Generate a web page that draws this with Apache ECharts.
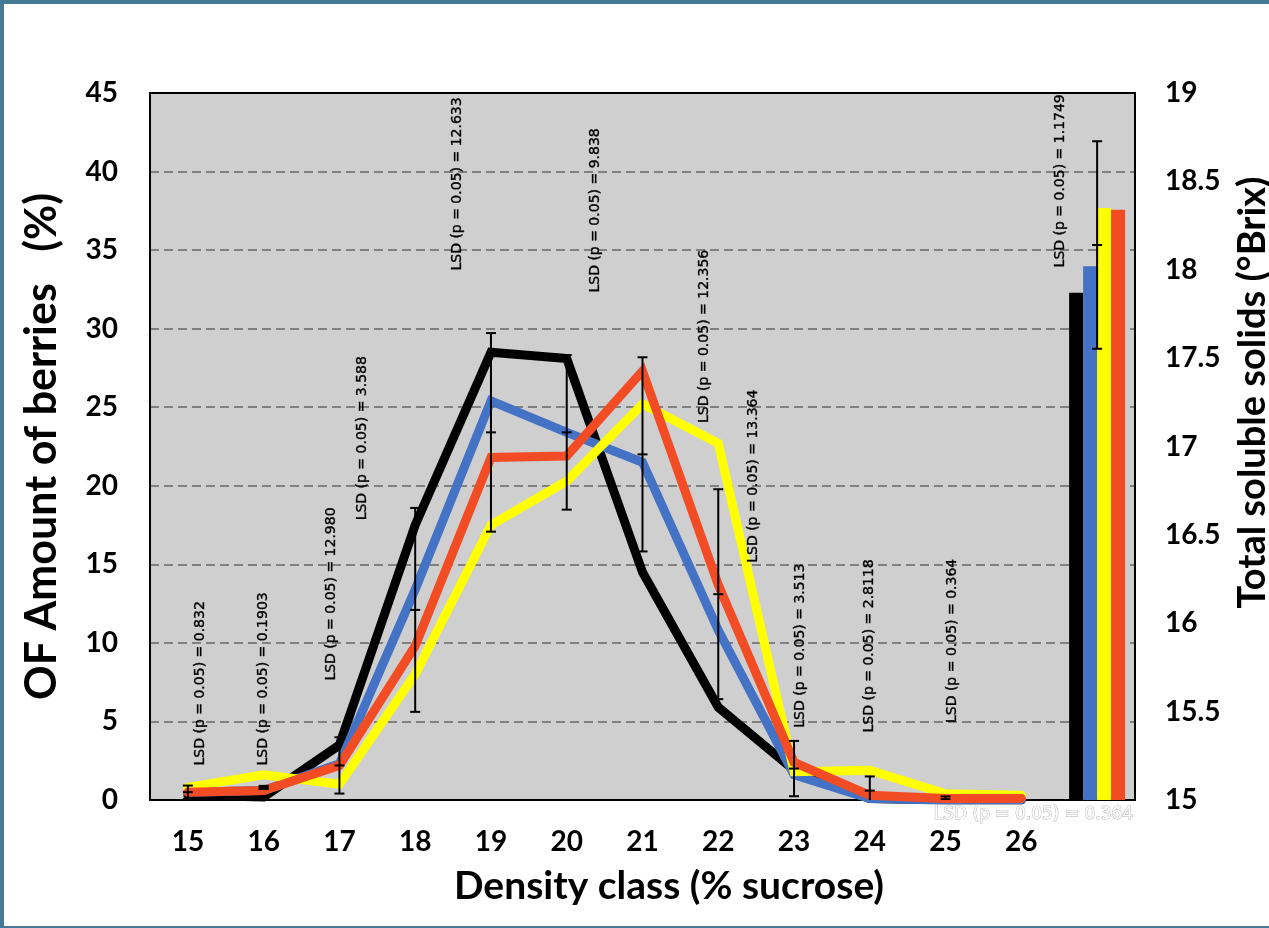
<!DOCTYPE html>
<html><head><meta charset="utf-8">
<script src="https://cdn.jsdelivr.net/npm/echarts@6/dist/echarts.min.js"></script>
<style>html,body{margin:0;padding:0;background:#fff}#c{width:1269px;height:928px}</style>
</head><body><div id="c"></div>
<script>
// ---- data ----
const categories = ['15','16','17','18','19','20','21','22','23','24','25','26',''];
const lineBlack  = [0.3, 0.2, 3.5, 17.5, 28.5, 28.1, 14.5, 5.9, 1.9, 0.1, 0.0, 0.0, null];
const lineBlue   = [0.5, 0.6, 2.3, 13.4, 25.4, 23.4, 21.5, 10.8, 1.6, 0.1, 0.0, 0.0, null];
const lineYellow = [0.8, 1.6, 1.0, 8.0, 17.5, 20.3, 25.2, 22.7, 1.8, 1.9, 0.4, 0.3, null];
const lineRed    = [0.5, 0.6, 2.2, 9.8, 21.8, 21.9, 27.3, 13.7, 2.4, 0.3, 0.1, 0.1, null];
const errCenter  = [0.5, 0.8, 2.2, 12.1, 23.4, 23.4, 22.0, 13.1, 2.0, 0.6, 0.05];
const errHalf    = [0.42, 0.1, 1.79, 6.49, 6.32, 4.92, 6.18, 6.68, 1.76, 0.9, 0.18];
const brixValues = [17.87, 18.02, 18.35, 18.34]; // black, blue, yellow, red
const brixErrCenter = 18.14;
const brixErrHalf = 0.587;
const lsdTexts = ['LSD (p = 0.05) = 0.832','LSD (p = 0.05) = 0.1903','LSD (p = 0.05) = 12.980','LSD (p = 0.05) = 3.588',
  'LSD (p = 0.05) = 12.633','LSD (p = 0.05) = 9.838','LSD (p = 0.05) = 12.356','LSD (p = 0.05) = 13.364',
  'LSD (p = 0.05) = 3.513','LSD (p = 0.05) = 2.8118','LSD (p = 0.05) = 0.364','LSD (p = 0.05) = 1.1749'];
const lsdCat    = [0, 1, 2, 2, 4, 5, 7, 7, 8, 9, 10, 12];
const lsdOffset = [0.16, 0.0, -0.1, 0.3, -0.44, 0.38, -0.18, 0.46, 0.09, 0.0, 0.09, -0.49];
const lsdBase   = [2.2, 2.2, 7.6, 17.8, 33.7, 32.3, 24.0, 15.1, 4.6, 4.3, 4.9, 33.9];
const ghostText = 'LSD (p = 0.05) = 0.364';
const yTicksLeft = {min: 0, max: 45, interval: 5};
const yTicksRight = {min: 15, max: 19, interval: 0.5};

// ---- chart ----
const chart = echarts.init(document.getElementById('c'));
const AX = {fontFamily: 'Lato', fontWeight: 'bold', color: '#000'};
const colors = {black: '#000000', blue: '#4472c4', yellow: '#ffff00', red: '#f24c25'};

function lineSeries(name, data, color) {
  return {name, type: 'line', data, showSymbol: false, symbol: 'none', z: 3,
    lineStyle: {color, width: 9, cap: 'round', join: 'miter'}, itemStyle: {color}};
}
function barSeries(i, color) {
  const d = categories.map((c, k) => k === categories.length - 1 ? brixValues[i] : null);
  return {type: 'bar', yAxisIndex: 1, data: d, barWidth: 14, barGap: '0%', itemStyle: {color}, z: 2};
}
function errRender(params, api) {
  const i = api.value(0), c = api.value(1), h = api.value(2);
  const t = api.coord([i, c + h]), b = api.coord([i, c - h]), m = api.coord([i, c]);
  const st = {stroke: '#000', lineWidth: 2};
  const w = 5;
  return {type: 'group', children: [
    {type: 'line', shape: {x1: t[0], y1: t[1], x2: b[0], y2: b[1]}, style: st},
    {type: 'line', shape: {x1: t[0] - w, y1: t[1], x2: t[0] + w, y2: t[1]}, style: st},
    {type: 'line', shape: {x1: b[0] - w, y1: b[1], x2: b[0] + w, y2: b[1]}, style: st},
    {type: 'line', shape: {x1: m[0] - w, y1: m[1], x2: m[0] + w, y2: m[1]}, style: st}
  ]};
}
function lsdRender(params, api) {
  const i = api.value(0), v = api.value(1), off = api.value(2);
  const p = api.coord([i, v]);
  const bw = api.size([1, 0])[0];
  return {type: 'text', x: p[0] + off * bw, y: p[1], rotation: Math.PI / 2,
    style: {text: lsdTexts[params.dataIndex], fill: '#000', stroke: '#000', lineWidth: 0.35,
      font: '14px "DejaVu Sans"',
      textAlign: 'left', textVerticalAlign: 'middle', align: 'left', verticalAlign: 'middle'}};
}
function ghostRender(params, api) {
  const p = api.coord([api.value(0), api.value(1)]);
  const bw = api.size([1, 0])[0];
  return {type: 'text', x: p[0] + api.value(2) * bw, y: p[1],
    style: {text: ghostText, fill: '#ffffff', stroke: '#c0c0c0', lineWidth: 1.2, font: '17px "DejaVu Sans"',
      textAlign: 'center', textVerticalAlign: 'middle', align: 'center', verticalAlign: 'middle'}};
}

chart.setOption({
  animation: false,
  backgroundColor: '#ffffff',
  graphic: [
    {type: 'rect', shape: {x: 0, y: 0, width: 1269, height: 4}, style: {fill: '#457a94'}, z: 100},
    {type: 'rect', shape: {x: 0, y: 0, width: 4, height: 928}, style: {fill: '#457a94'}, z: 100},
    {type: 'rect', shape: {x: 0, y: 926, width: 1269, height: 2}, style: {fill: '#457a94'}, z: 100}
  ],
  grid: {left: 150, right: 134, top: 93, bottom: 128, show: true, backgroundColor: '#d0cfd0',
    borderColor: '#000', borderWidth: 2, outerBoundsMode: 'none', containLabel: false},
  xAxis: {type: 'category', data: categories, boundaryGap: true,
    axisLine: {lineStyle: {color: '#000', width: 2}}, axisTick: {show: false},
    axisLabel: Object.assign({fontSize: 28, margin: 28, interval: 0}, AX),
    name: 'Density class (% sucrose)', nameLocation: 'middle', nameGap: 67,
    nameTextStyle: Object.assign({fontSize: 39, padding: [0, 0, 0, 53]}, AX)},
  yAxis: [
    {type: 'value', min: yTicksLeft.min, max: yTicksLeft.max, interval: yTicksLeft.interval,
      axisLine: {show: true, lineStyle: {color: '#000', width: 2}}, axisTick: {show: false},
      axisLabel: Object.assign({fontSize: 28, margin: 32}, AX),
      splitLine: {show: true, showMaxLine: false, showMinLine: false,
        lineStyle: {color: '#808080', width: 2, type: [9, 5]}},
      name: 'OF Amount of berries   (%)', nameLocation: 'middle', nameGap: 86, nameRotate: 90,
      nameTextStyle: Object.assign({fontSize: 43}, AX)},
    {type: 'value', min: yTicksRight.min, max: yTicksRight.max, interval: yTicksRight.interval,
      position: 'right',
      axisLine: {show: true, lineStyle: {color: '#000', width: 2}}, axisTick: {show: false},
      axisLabel: Object.assign({fontSize: 28, margin: 30}, AX),
      splitLine: {show: false},
      name: 'Total soluble solids (°Brix)', nameLocation: 'middle', nameGap: 99, nameRotate: 90,
      nameTextStyle: Object.assign({fontSize: 38, padding: [0, 0, 0, 108]}, AX)}
  ],
  series: [
    lineSeries('black', lineBlack, colors.black),
    lineSeries('blue', lineBlue, colors.blue),
    lineSeries('yellow', lineYellow, colors.yellow),
    lineSeries('red', lineRed, colors.red),
    barSeries(0, colors.black), barSeries(1, colors.blue), barSeries(2, colors.yellow), barSeries(3, colors.red),
    {type: 'custom', renderItem: errRender, clip: true, z: 5,
      data: errCenter.map((c, i) => [i, c, errHalf[i]])},
    {type: 'custom', renderItem: errRender, clip: true, z: 5, yAxisIndex: 1,
      data: [[categories.length - 1, brixErrCenter, brixErrHalf]]},
    {type: 'custom', renderItem: lsdRender, clip: false, z: 6,
      data: lsdTexts.map((t, i) => [lsdCat[i], lsdBase[i], lsdOffset[i]])},
    {type: 'custom', renderItem: ghostRender, clip: false, z: 6,
      data: [[11, -0.95, 0.16]]}
  ]
});
</script></body></html>
